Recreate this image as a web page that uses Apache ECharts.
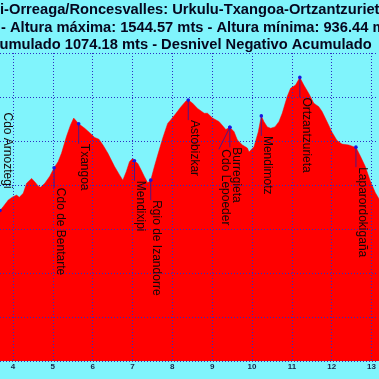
<!DOCTYPE html>
<html><head><meta charset="utf-8">
<script src="https://cdn.jsdelivr.net/npm/echarts@6/dist/echarts.min.js"></script>
<style>html,body{margin:0;padding:0;background:#80f4fc;}#c{width:379px;height:379px;}</style>
</head><body><div id="c"></div>
<script>
// Elevation profile (km, metres)
const kmProfile = [3.575,3.675,3.758,3.883,3.993,4.093,4.158,4.258,4.343,4.468,4.55,4.633,4.693,4.8,4.925,5.033,5.133,5.218,5.343,5.443,5.525,5.575,5.65,5.8,5.925,6.05,6.158,6.258,6.383,6.55,6.675,6.758,6.843,6.925,7.008,7.05,7.133,7.218,7.3,7.383,7.458,7.55,7.633,7.758,7.883,7.968,8.093,8.218,8.343,8.4,8.508,8.633,8.8,8.883,9.008,9.175,9.343,9.443,9.55,9.633,9.758,9.883,9.925,10.05,10.158,10.233,10.3,10.383,10.468,10.575,10.675,10.758,10.883,10.968,11.093,11.2,11.3,11.425,11.55,11.675,11.758,11.883,12.008,12.133,12.258,12.425,12.55,12.608,12.718,12.843,12.968,13.093,13.2,13.3];
const elevProfile = [1234,1242,1251,1266,1273,1277,1272,1281,1304,1315,1307,1298,1295,1304,1320,1339,1353,1372,1410,1436,1452,1448,1439,1429,1419,1408,1404,1391,1372,1342,1323,1311,1330,1353,1361,1355,1349,1334,1319,1305,1311,1342,1368,1406,1440,1449,1463,1478,1491,1493,1486,1474,1463,1463,1452,1444,1426,1431,1421,1402,1391,1384,1375,1387,1421,1457,1444,1432,1429,1432,1444,1463,1501,1520,1527,1544.57,1527,1508,1486,1478,1467,1444,1420,1401,1393,1391,1387,1386,1366,1342,1309,1283,1266,1254];

// Waypoints
const wpNames = ['Cdo Arnoztegi','Cdo de Bentarte','Txangoa','Mendixipi','Rgio de Izandorre','Astobizkar','Cdo Lepoeder','Burregieta','Mendimotz','Ortzantzurieta','Laparordokigaña'];
const wpKm = [3.675,5.033,5.65,7.05,7.458,8.4,9.443,9.443,10.233,11.2,12.608];
const wpElev = [1242,1339,1439,1355,1311,1493,1431,1431,1457,1544.57,1386];

// Visible window of the axes
const kmMin = 3.675, kmMax = 13.15;
const elevMin = 900, elevMax = 1600;

// Title lines
const titleLines = [
  'i-Orreaga/Roncesvalles: Urkulu-Txangoa-Ortzantzurieta',
  '- Altura máxima: 1544.57 mts - Altura mínima: 936.44 mts',
  'umulado 1074.18 mts - Desnivel Negativo Acumulado'
];

// label placement style (pixels)
const labelOffsets = {
  'Cdo Arnoztegi': {dx: 1.5, dy: -98, leader: false},
  'Cdo Lepoeder': {dx: -11, dy: 22, leader: true}
};

const chart = echarts.init(document.getElementById('c'), null, {renderer: 'canvas'});
const FONT = '"Liberation Sans", Arial, sans-serif';

const option = {
  backgroundColor: '#80f4fc',
  animation: false,
  grid: {left: 0, right: 0, top: 53, bottom: 18},
  xAxis: {
    type: 'value', min: kmMin, max: kmMax, minInterval: 1, maxInterval: 1, z: 3,
    axisLine: {show: false}, axisTick: {show: false},
    axisLabel: {color: '#15254a', fontSize: 8, fontWeight: 'bold', fontFamily: FONT, margin: 2,
      showMinLabel: false, showMaxLabel: false},
    splitLine: {show: true, showMinLine: false, showMaxLine: false,
      lineStyle: {color: '#2e2ec4', type: [1, 2], width: 1}}
  },
  yAxis: {
    type: 'value', min: elevMin, max: elevMax, interval: 100, z: 3,
    axisLine: {show: false}, axisTick: {show: false}, axisLabel: {show: false},
    splitLine: {show: true, lineStyle: {color: '#2e2ec4', type: [1, 2], width: 1}}
  },
  graphic: titleLines.map((t, i) => ({
    type: 'text', x: [0, 1, -0.5][i], y: [10, 27.5, 45][i], z: 10,
    style: {text: t, font: 'bold 14.7px ' + FONT, fill: '#06061e', verticalAlign: 'middle', align: 'left'}
  })),
  series: [
    {
      type: 'line', z: 2,
      data: kmProfile.map((k, i) => [k, elevProfile[i]]),
      showSymbol: false, symbol: 'none',
      lineStyle: {color: '#ff0000', width: 0.5},
      areaStyle: {color: '#ff0000', opacity: 1, origin: 'start'}
    },
    {
      type: 'custom', z: 5,
      data: wpNames.map((n, i) => [wpKm[i], wpElev[i]]),
      renderItem: function (params, api) {
        const i = params.dataIndex;
        const p = api.coord([api.value(0), api.value(1)]);
        const o = labelOffsets[wpNames[i]] || {dx: 0, dy: 20, leader: true};
        const ax = p[0] + o.dx, ay = p[1] + o.dy;
        const children = [];
        if (o.leader) {
          children.push({type: 'line', shape: {x1: p[0], y1: p[1], x2: ax, y2: ay},
            style: {stroke: '#2020a8', lineWidth: 0.8}});
        }
        children.push({type: 'text', x: ax, y: ay, rotation: -Math.PI / 2,
          style: {text: wpNames[i], font: '12px ' + FONT, fill: '#140808', align: 'left', verticalAlign: 'bottom'}});
        children.push({type: 'circle', shape: {cx: p[0], cy: p[1], r: 1.8}, style: {fill: '#1818e0'}});
        return {type: 'group', children: children};
      }
    }
  ]
};
chart.setOption(option);
</script></body></html>
